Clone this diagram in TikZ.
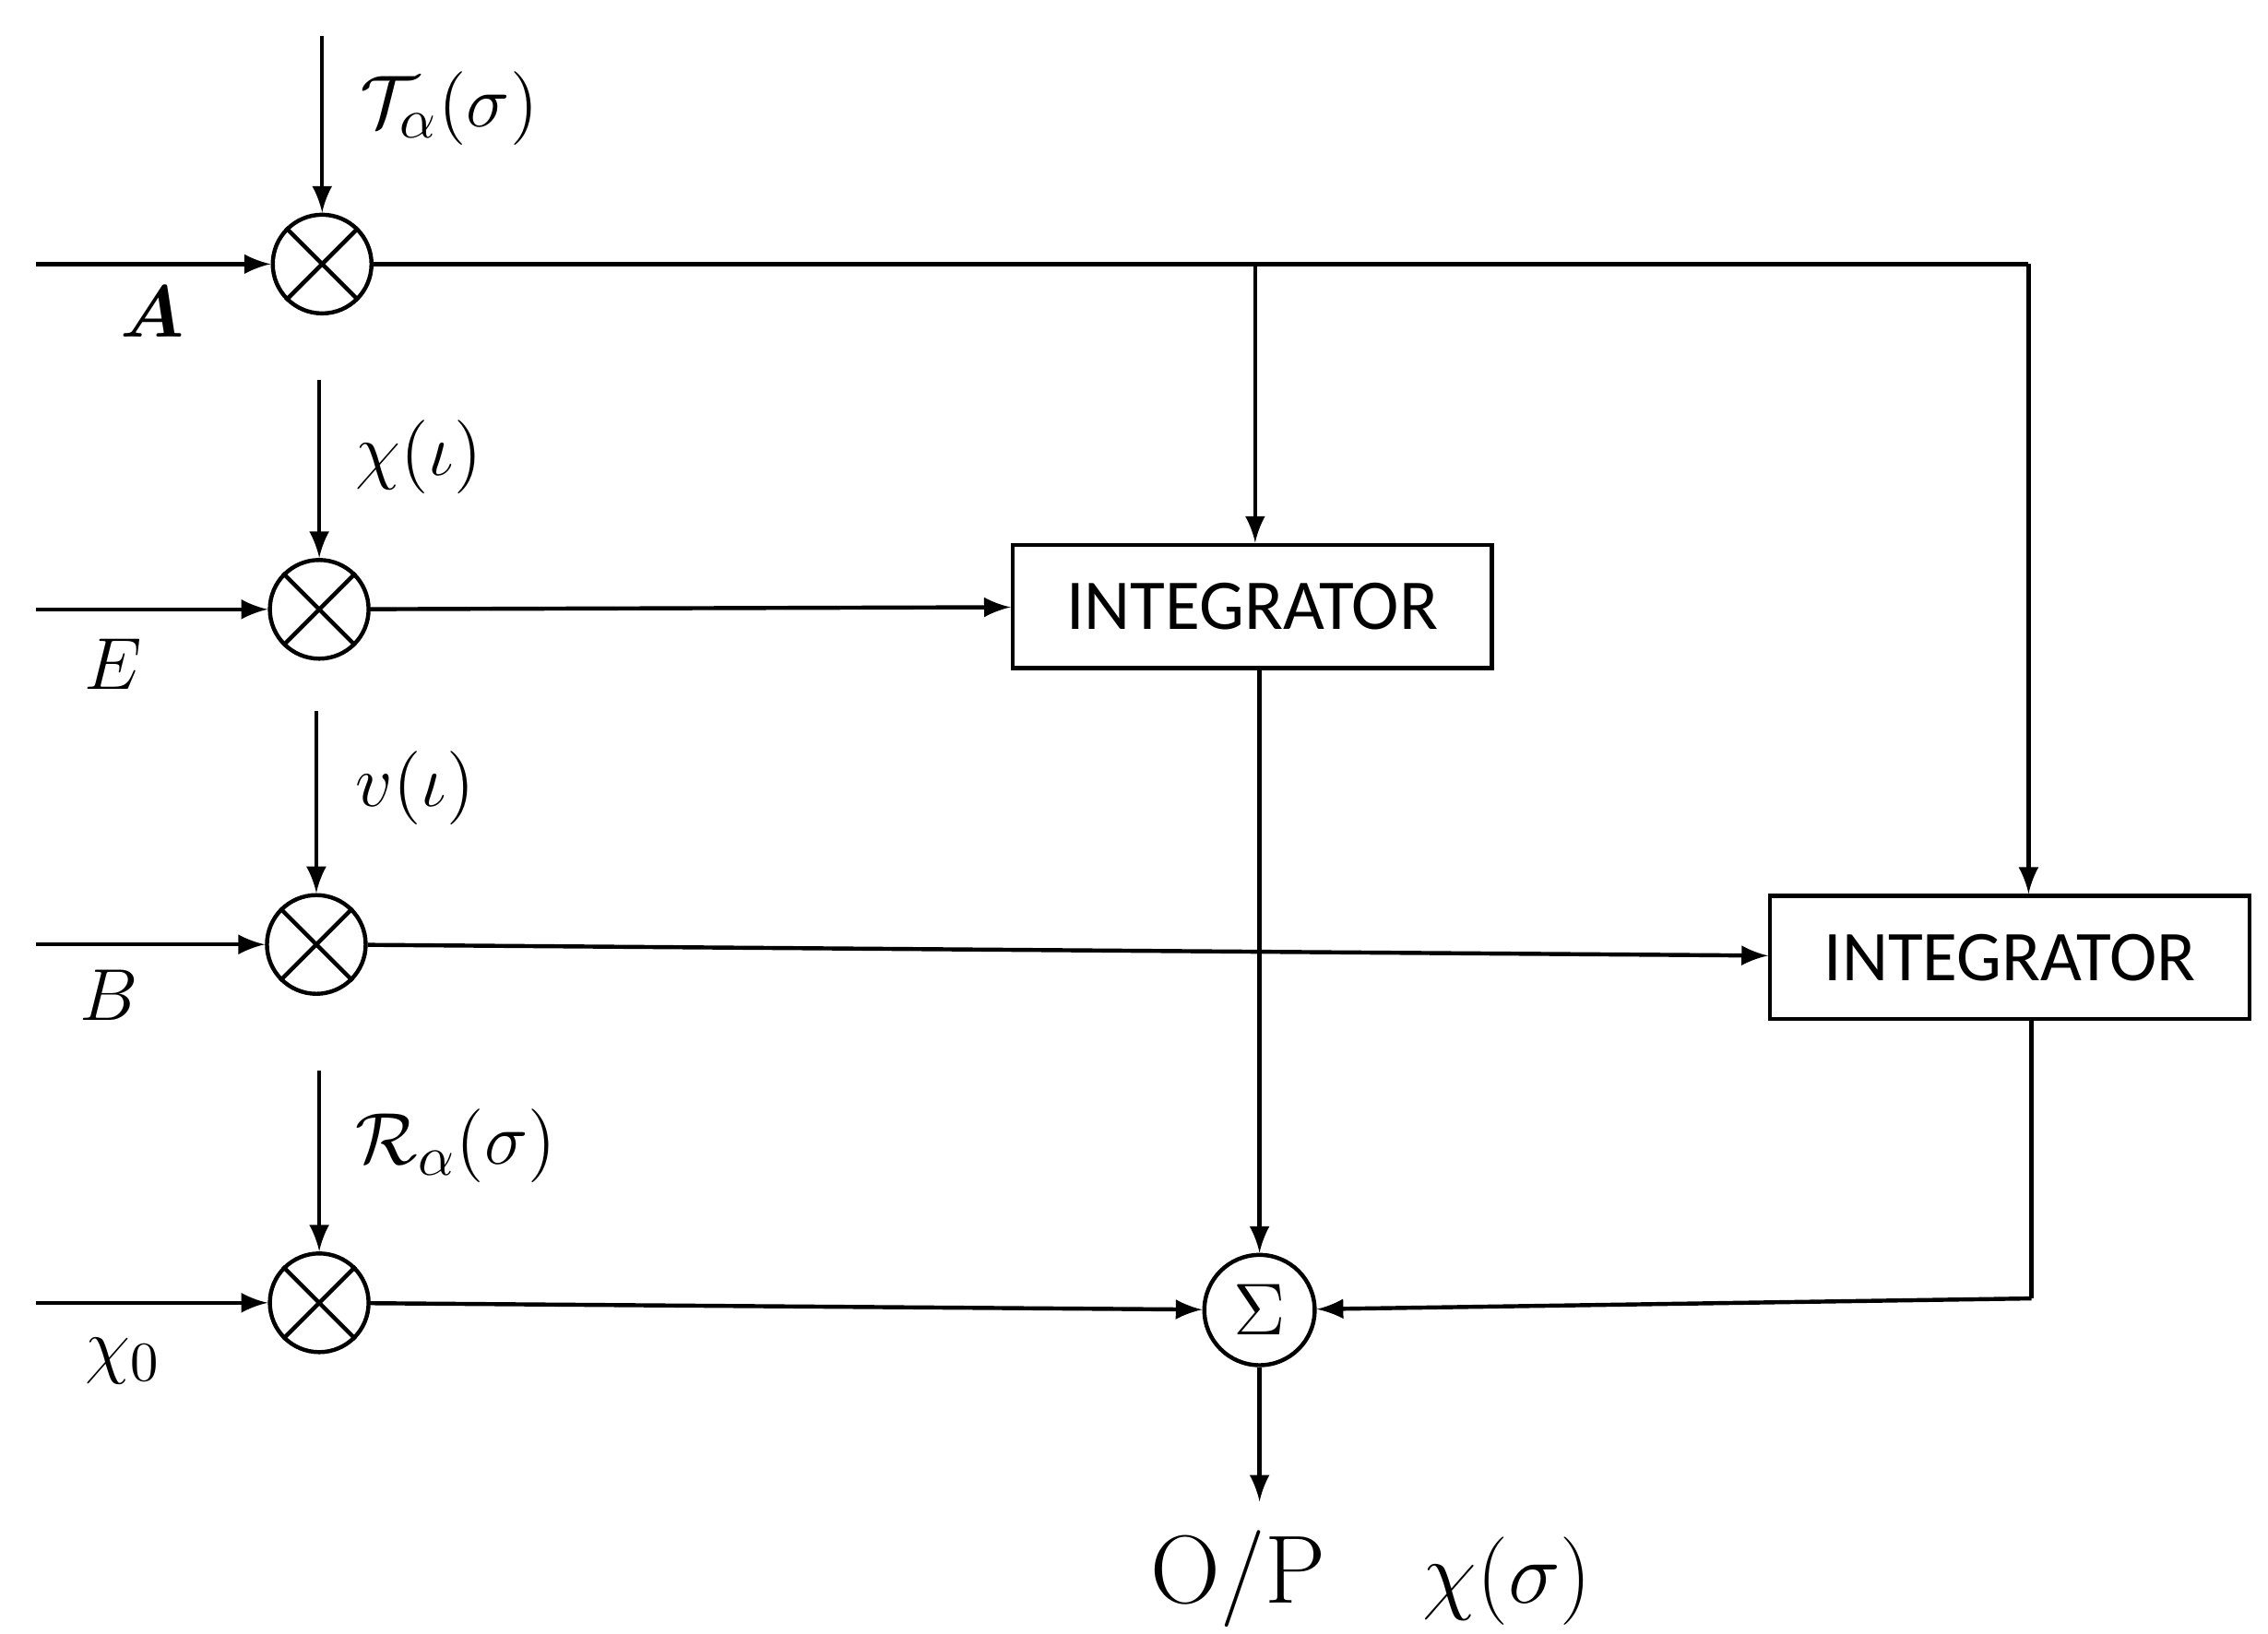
\documentclass[tikz,border=0pt]{standalone}
\usepackage{amsmath,amssymb}
\usepackage{fontspec}
\newfontfamily\boxfont{Carlito}
\usetikzlibrary{positioning}
\begin{document}
\begin{tikzpicture}[x=0.01cm,y=-0.01cm,>=latex,thick,
    mult/.style={circle,draw,minimum size=0.68cm,inner sep=0pt},
    intg/.style={draw,minimum width=3.3cm,minimum height=0.85cm,font=\boxfont\fontsize{14}{16}\selectfont},
    lbl/.style={font=\fontsize{15}{18}\selectfont}]
  \useasboundingbox (0,0) rectangle (1563,1126);
  % multipliers
  \foreach \name/\x/\y/\t in {mA/222/182/25,mE/220/420/262,mB/218/651/490,mX/220/898/738}{
    \node[mult] (\name) at (\x,\y) {};
    \draw (\name.north west) -- (\name.south east) (\name.north east) -- (\name.south west);
    \coordinate (\name-in) at (25,\y);
    \coordinate (\name-top) at (\x,\t);
    \draw[->] (\name-in) -- (\name);
    \draw[->] (\name-top) -- (\name);
  }
  % input labels
  \node[lbl] at (105,215) {$\boldsymbol{A}$};
  \node[lbl] at (78,458) {$E$};
  \node[lbl] at (75,686) {$B$};
  \node[lbl] at (85,938) {$\chi_0$};
  \node[lbl,anchor=west] at (235,75) {$\mathcal{T}_\alpha(\sigma)$};
  \node[lbl,anchor=west] at (232,315) {$\chi(\iota)$};
  \node[lbl,anchor=west] at (232,543) {$v(\iota)$};
  \node[lbl,anchor=west] at (232,790) {$\mathcal{R}_\alpha(\sigma)$};
  % blocks
  \node[intg] (int1) at (863,418) {INTEGRATOR};
  \node[intg] (int2) at (1385,660) {INTEGRATOR};
  \node[circle,draw,minimum size=0.76cm,inner sep=0pt,font=\fontsize{15}{18}\selectfont] (sum) at (868,903) {$\Sigma$};
  \coordinate (split) at (865,182);
  \coordinate (corner) at (1398,182);
  \coordinate (back) at (1400,895);
  \coordinate (out) at (868,1035);
  % connectors
  \draw (mA) -- (corner);
  \draw[->] (corner) -- (int2.north -| corner);
  \draw[->] (split) -- (int1.north -| split);
  \draw[->] (mE) -- (int1);
  \draw[->] (mB) -- (int2);
  \draw[->] (mX) -- (sum);
  \draw[->] (int1.south -| sum) -- (sum);
  \draw (int2.south -| back) -- (back);
  \draw[->] (back) -- (sum);
  \draw[->] (sum) -- (out);
  \node[font=\fontsize{19}{22}\selectfont] at (945,1088) {O/P\quad$\chi(\sigma)$};
\end{tikzpicture}
\end{document}
